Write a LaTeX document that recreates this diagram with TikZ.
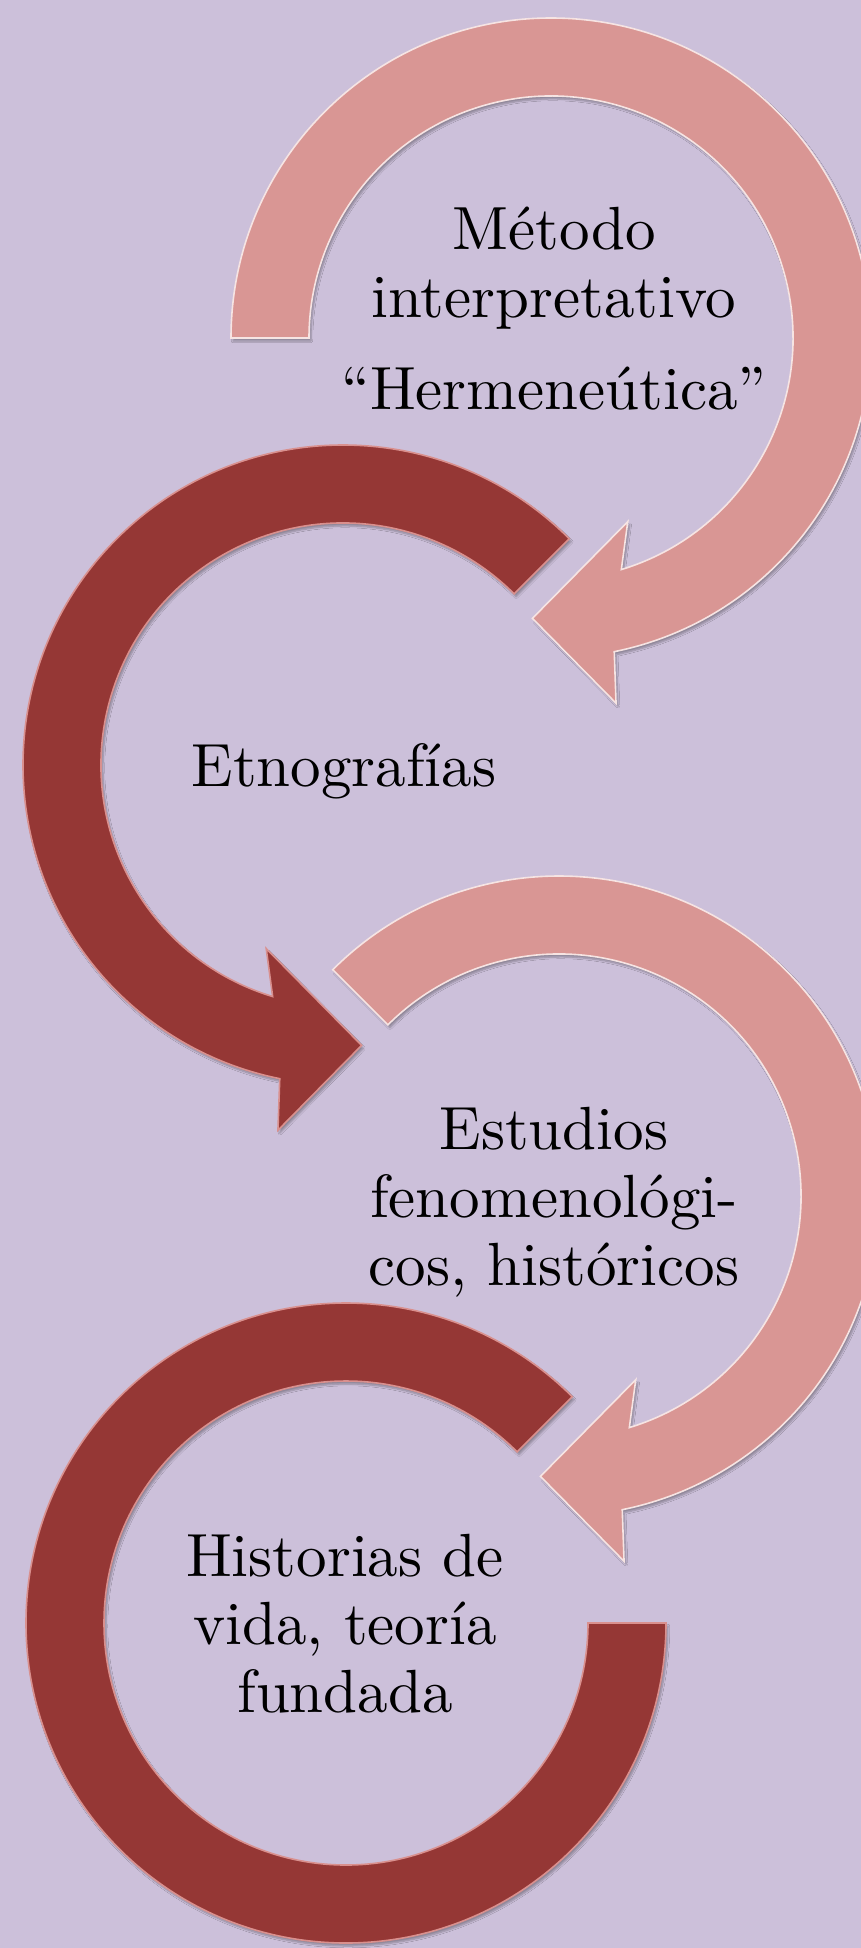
\documentclass[tikz,border=0pt]{standalone}
\usepackage{fontspec}
\newfontfamily\lblfont{lmroman10-regular}[Extension=.otf]
\usetikzlibrary{shadows.blur}
\definecolor{bgc}{HTML}{CCC0DA}
\definecolor{pinkc}{HTML}{D99694}
\definecolor{redc}{HTML}{953735}
\definecolor{pinkedge}{HTML}{F6E4E3}
\definecolor{rededge}{HTML}{D9908E}
\begin{document}
\begin{tikzpicture}[x=1pt,y=1pt,
  ringshadow/.style={blur shadow={shadow xshift=2pt,shadow yshift=-3pt,shadow blur steps=6,shadow opacity=30}},
  pinkarrow/.style={fill=pinkc,draw=pinkedge,line width=1.6pt,line join=miter,ringshadow},
  redarrow/.style={fill=redc,draw=rededge,line width=1.6pt,line join=miter,ringshadow},
  lbl/.style={font=\lblfont\fontsize{61}{68}\selectfont,align=center,text=black,inner sep=0pt,anchor=base}]

\fill[bgc] (0,0) rectangle (861,-1948);
\useasboundingbox (0,0) rectangle (861,-1948);

% arrow 1 (pink, clockwise)
\begin{scope}[shift={(551,-338)}]
\path[pinkarrow] (180:320) arc[start angle=180,end angle=-78.6,radius=320]
  -- (-79.9:371) -- (-93.8:281) -- (-67.3:199) -- (-73.1:242)
  arc[start angle=-73.1,end angle=180,radius=242] -- cycle;
\end{scope}

% arrow 2 (dark red, counter-clockwise)
\begin{scope}[shift={(343,-765)}]
\path[redarrow] (45:320) arc[start angle=45,end angle=258.6,radius=320]
  -- (259.9:371) -- (273.8:281) -- (247.3:199) -- (253.1:242)
  arc[start angle=253.1,end angle=45,radius=242] -- cycle;
\end{scope}

% arrow 3 (pink, clockwise)
\begin{scope}[shift={(559,-1196)}]
\path[pinkarrow] (135:320) arc[start angle=135,end angle=-78.6,radius=320]
  -- (-79.9:371) -- (-93.8:281) -- (-67.3:199) -- (-73.1:242)
  arc[start angle=-73.1,end angle=135,radius=242] -- cycle;
\end{scope}

% arrow 4 (dark red, open ring)
\begin{scope}[shift={(346,-1623)}]
\path[redarrow] (0:320) arc[start angle=0,end angle=-315,radius=320]
  -- (-315:242) arc[start angle=-315,end angle=0,radius=242] -- cycle;
\end{scope}

\node[lbl] (t1) at (554,-409) {Método\\interpretativo\\[24pt]“Hermeneútica”};
\node[lbl] (t2) at (344,-786) {Etnografías};
\node[lbl] (t3) at (554,-1285) {Estudios\\fenomenológi-\\cos, históricos};
\node[lbl] (t4) at (345,-1712) {Historias de\\vida, teoría\\fundada};
\end{tikzpicture}
\end{document}
